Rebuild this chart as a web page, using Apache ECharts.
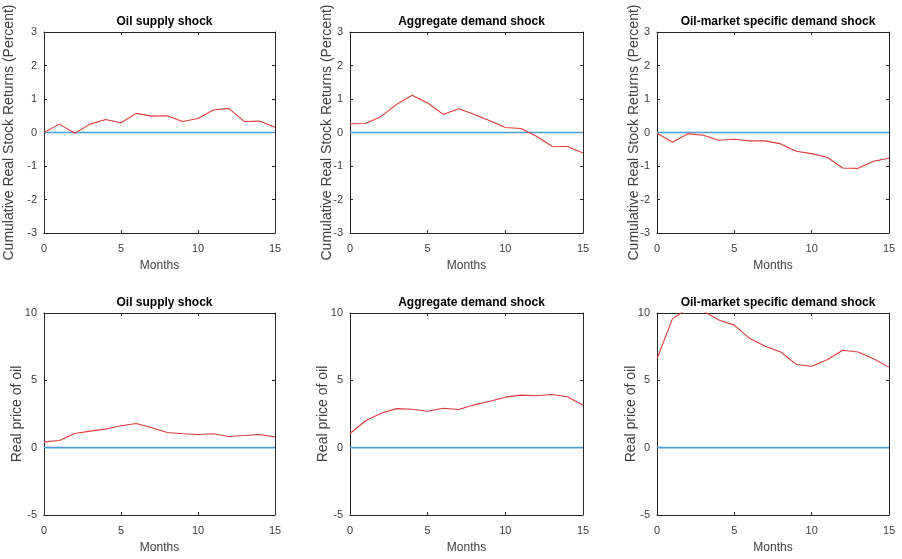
<!DOCTYPE html>
<html>
<head>
<meta charset="utf-8">
<script src="https://cdn.jsdelivr.net/npm/echarts@6/dist/echarts.min.js"></script>
<style>html,body{margin:0;padding:0;background:#fff;}#c{width:902px;height:559px;}</style>
</head>
<body>
<div id="c"></div>
<script>
const months = [0,1,2,3,4,5,6,7,8,9,10,11,12,13,14,15];
const titles = ['Oil supply shock','Aggregate demand shock','Oil-market specific demand shock'];
const xTicks = [0,5,10,15];
const stockTicks = [-3,-2,-1,0,1,2,3];
const oilTicks = [-5,0,5,10];
const stockLabel = 'Cumulative Real Stock Returns (Percent)';
const oilLabel = 'Real price of oil';
const xLabel = 'Months';

const stockSupply = [0,0.25,-0.02,0.25,0.39,0.29,0.57,0.49,0.5,0.33,0.42,0.67,0.72,0.33,0.34,0.16];
const stockAggregate = [0.26,0.27,0.48,0.84,1.11,0.88,0.54,0.71,0.54,0.35,0.15,0.12,-0.11,-0.41,-0.42,-0.61];
const stockOilSpecific = [-0.02,-0.29,-0.04,-0.08,-0.23,-0.2,-0.25,-0.25,-0.34,-0.56,-0.63,-0.74,-1.06,-1.07,-0.86,-0.77];
const oilSupply = [0.43,0.53,1.05,1.23,1.38,1.63,1.8,1.48,1.13,1.03,0.98,1.03,0.83,0.9,0.98,0.8];
const oilAggregate = [1.05,2.0,2.55,2.9,2.85,2.7,2.93,2.83,3.18,3.45,3.75,3.9,3.85,3.95,3.78,3.15];
const oilOilSpecific = [6.58,9.58,10.32,10.13,9.48,9.1,8.1,7.53,7.1,6.18,6.05,6.53,7.23,7.1,6.6,5.98];
const zeroLine = [0,0];

const panels = [
  {data: stockSupply, ticks: stockTicks, label: stockLabel, title: titles[0]},
  {data: stockAggregate, ticks: stockTicks, label: stockLabel, title: titles[1]},
  {data: stockOilSpecific, ticks: stockTicks, label: stockLabel, title: titles[2]},
  {data: oilSupply, ticks: oilTicks, label: oilLabel, title: titles[0]},
  {data: oilAggregate, ticks: oilTicks, label: oilLabel, title: titles[1]},
  {data: oilOilSpecific, ticks: oilTicks, label: oilLabel, title: titles[2]}
];

const lefts = [44, 350, 657];
const widths = [231, 233, 232];
const tops = [32, 313];
const heights = [201, 202];
const nameGaps = [28, 16, 16, 20, 20, 19];
const titleY = [11, 292];

const FONT = 'Liberation Sans, Arial, sans-serif';
const AX = '#262626';
const LBL = '#404040';

const grid = [], xAxis = [], yAxis = [], series = [], title = [];
panels.forEach((p, i) => {
  const col = i % 3, row = Math.floor(i / 3);
  grid.push({left: lefts[col], top: tops[row], width: widths[col], height: heights[row], containLabel: false});
  title.push({
    text: p.title, left: lefts[col] + widths[col] / 2, top: titleY[row], textAlign: 'center',
    textStyle: {fontFamily: FONT, fontSize: 12, fontWeight: 'bold', color: '#000'}
  });
  const ymin = p.ticks[0], ymax = p.ticks[p.ticks.length - 1];
  const yint = p.ticks[1] - p.ticks[0];
  const baseX = {
    type: 'value', gridIndex: i, min: months[0], max: months[months.length - 1], interval: xTicks[1] - xTicks[0],
    splitLine: {show: false},
    axisLine: {show: true, onZero: false, lineStyle: {color: AX, width: 1}},
    axisTick: {show: true, inside: true, length: 3, lineStyle: {color: AX}}
  };
  xAxis.push(Object.assign({}, baseX, {
    position: 'bottom',
    name: xLabel, nameLocation: 'middle', nameGap: 27, nameMoveOverlap: false,
    nameTextStyle: {fontFamily: FONT, fontSize: 12, color: LBL},
    axisLabel: {fontFamily: FONT, fontSize: 11, color: LBL, margin: 10}
  }));
  xAxis.push(Object.assign({}, baseX, {position: 'top', axisLabel: {show: false}}));
  const baseY = {
    type: 'value', gridIndex: i, min: ymin, max: ymax, interval: yint,
    splitLine: {show: false},
    axisLine: {show: true, onZero: false, lineStyle: {color: AX, width: 1}},
    axisTick: {show: true, inside: true, length: 3, lineStyle: {color: AX}}
  };
  yAxis.push(Object.assign({}, baseY, {
    position: 'left',
    name: p.label, nameLocation: 'middle', nameGap: nameGaps[i], nameRotate: 90, nameMoveOverlap: false,
    nameTextStyle: {fontFamily: FONT, fontSize: 14, color: LBL},
    axisLabel: {fontFamily: FONT, fontSize: 11, color: LBL, margin: 7}
  }));
  yAxis.push(Object.assign({}, baseY, {position: 'right', axisLabel: {show: false}}));
  series.push({
    type: 'line', xAxisIndex: 2 * i, yAxisIndex: 2 * i,
    data: [[months[0], zeroLine[0]], [months[months.length - 1], zeroLine[1]]],
    symbol: 'none', lineStyle: {color: '#4f9bd6', width: 1.6}, silent: true, animation: false
  });
  series.push({
    type: 'line', xAxisIndex: 2 * i, yAxisIndex: 2 * i,
    data: months.map((m, k) => [m, p.data[k]]),
    symbol: 'none', clip: true, lineStyle: {color: '#dd3a3a', width: 1.1}, animation: false
  });
});

const chart = echarts.init(document.getElementById('c'), null, {renderer: 'canvas'});
chart.setOption({
  backgroundColor: '#ffffff',
  animation: false,
  textStyle: {fontFamily: FONT},
  title, grid, xAxis, yAxis, series
});
</script>
</body>
</html>
